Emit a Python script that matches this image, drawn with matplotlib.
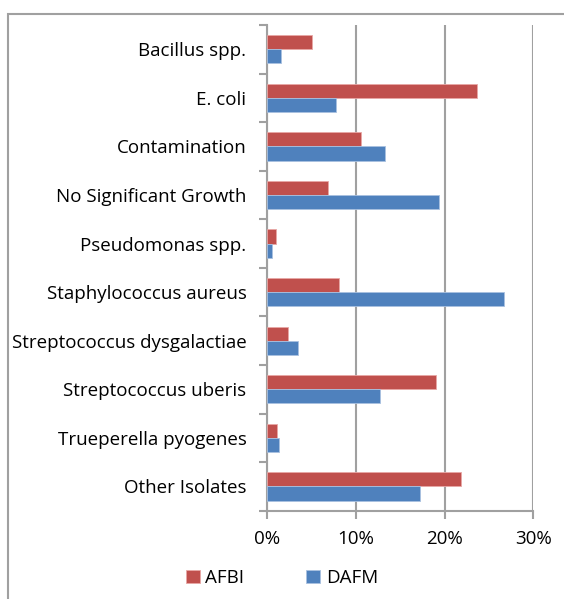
import matplotlib.pyplot as plt
import matplotlib.patches as mpatches
import numpy as np

# categories top to bottom as in the chart
categories = ["Bacillus spp.", "E. coli", "Contamination", "No Significant Growth",
              "Pseudomonas spp.", "Staphylococcus aureus", "Streptococcus dysgalactiae",
              "Streptococcus uberis", "Trueperella pyogenes", "Other Isolates"]
afbi = [5.0, 23.6, 10.6, 6.9, 1.0, 8.1, 2.3, 19.0, 1.1, 21.9]
dafm = [1.5, 7.7, 13.3, 19.4, 0.5, 26.7, 3.5, 12.7, 1.35, 17.2]
xticks = [0, 10, 20, 30]
xtick_labels = ["0%", "10%", "20%", "30%"]

red = "#C0504D"
blue = "#4F81BD"
grey = "#A0A0A0"
fs = 13.5

plt.rcParams['font.family'] = ['Open Sans', 'DejaVu Sans']

fig = plt.figure(figsize=(5.64, 5.99), dpi=100)
ax = fig.add_axes([267.3 / 564, 1 - 510.7 / 599, (533.3 - 267.3) / 564, (510.7 - 25) / 599])

# outer frame of the chart area
fig.patches.append(mpatches.Rectangle((8 / 564, -0.02), 1.1, 1.02 - 14 / 599,
                                      transform=fig.transFigure, fill=False,
                                      edgecolor=grey, linewidth=1.5))

n = len(categories)
pos = np.arange(n)
h = 0.29
ax.barh(pos - h / 2, afbi, height=h, color=red, edgecolor="#E8A8A6", linewidth=0.6, label="AFBI", zorder=3)
ax.barh(pos + h / 2, dafm, height=h, color=blue, edgecolor="#A9C1E0", linewidth=0.6, label="DAFM", zorder=3)

ax.set_ylim(n - 0.5, -0.5)
ax.set_xlim(0, 30)
ax.set_yticks(pos)
ax.set_yticklabels(categories, fontsize=fs)
ax.set_yticks(np.arange(n + 1) - 0.5, minor=True)
ax.tick_params(axis='y', which='major', length=0, pad=15)
ax.tick_params(axis='y', which='minor', length=6, width=1.5, color=grey, direction='out')

ax.set_xticks(xticks)
ax.set_xticklabels(xtick_labels, fontsize=fs)
ax.tick_params(axis='x', length=6, width=1.5, color=grey, direction='out', pad=8)

ax.grid(axis='x', color=grey, linewidth=1.5, zorder=0)
for s in ['top', 'right']:
    ax.spines[s].set_visible(False)
for s in ['left', 'bottom']:
    ax.spines[s].set_color(grey)
    ax.spines[s].set_linewidth(1.5)

ax.legend(loc='center', bbox_to_anchor=(0.5, 0.035), bbox_transform=fig.transFigure,
          ncol=2, frameon=False, fontsize=fs, handlelength=0.75, handleheight=0.75,
          handletextpad=0.3, columnspacing=3.3)

fig.savefig("out.png", dpi=100)
